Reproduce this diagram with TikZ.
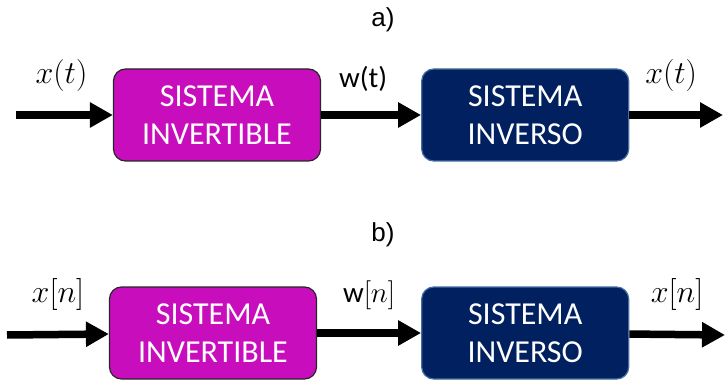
\RequirePackage{fix-cm}
\documentclass[tikz,border=0pt]{standalone}
\usepackage[no-math]{fontspec}
\setmainfont{Carlito}
\newfontfamily\titlefont{Liberation Sans}
\usetikzlibrary{positioning,arrows.meta}
\definecolor{sysmagenta}{RGB}{200,14,188}
\definecolor{sysnavy}{RGB}{0,32,96}
\definecolor{navyedge}{RGB}{70,110,160}
\tikzset{
  sysbox/.style={draw, rounded corners=12pt, minimum width=207pt, minimum height=92pt,
    align=center, text=white, font=\fontsize{32}{38}\selectfont, line width=1.2pt},
  sigarrow/.style={line width=7.5pt, -{Triangle[length=23pt,width=24pt]}},
  siglabel/.style={above=20pt, inner sep=0pt, font=\fontsize{32}{38}\selectfont},
  wlabel/.style={above=20pt, inner sep=0pt, font=\fontsize{29}{35}\selectfont},
  partlabel/.style={font=\titlefont\fontsize{26}{30}\selectfont},
}
\begin{document}
\begin{tikzpicture}[x=1pt, y=-1pt]
    \useasboundingbox (0,0) rectangle (725,382);

    % a) tiempo continuo
    \node[partlabel] (tita) at (383,20) {a)};
    \node[sysbox, fill=sysmagenta, draw=black!85] (inva) at (217,115) {SISTEMA\\INVERTIBLE};
    \node[sysbox, fill=sysnavy, draw=navyedge, right=100pt of inva] (inversa) {SISTEMA\\INVERSO};
    \coordinate (ina) at (16,115);
    \coordinate (outa) at (723,115);

    \draw[sigarrow] (ina) -- node[siglabel, xshift=-3pt] (xa) {$x(t)$} (inva);
    \draw[sigarrow] (inva) -- node[wlabel, xshift=-8pt] (wa) {w(t)} (inversa);
    \draw[sigarrow] (inversa) -- node[siglabel, xshift=-5pt] (ya) {$x(t)$} (outa);

    % b) tiempo discreto
    \node[partlabel] (titb) at (383,235) {b)};
    \node[sysbox, fill=sysmagenta, draw=black!85] (invb) at (213,333) {SISTEMA\\INVERTIBLE};
    \node[sysbox, fill=sysnavy, draw=navyedge, right=104pt of invb] (inversb) {SISTEMA\\INVERSO};
    \coordinate (inb) at (7,335);
    \coordinate (outb) at (725,335);

    \draw[sigarrow] (inb) -- node[siglabel] (xb) {$x[n]$} (invb);
    \draw[sigarrow] (invb) -- node[wlabel] (wb) {w$[n]$} (inversb);
    \draw[sigarrow] (inversb) -- node[siglabel] (yb) {$x[n]$} (outb);
\end{tikzpicture}
\end{document}
